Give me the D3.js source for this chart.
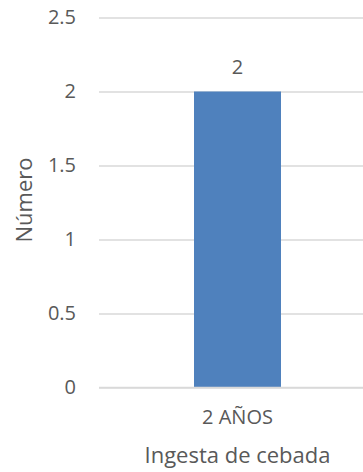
<!DOCTYPE html>
<html>
<head>
<meta charset="utf-8">
<script src="https://cdn.jsdelivr.net/npm/d3@7"></script>
<style>
  html, body { margin: 0; padding: 0; background: #fff; }
  svg { display: block; font-family: "Open Sans", sans-serif; }
</style>
</head>
<body>
<svg id="chart" width="363" height="472"></svg>
<script>
// Chart data
const categories = ["2 AÑOS"];
const values = [2];
const yTicks = [0, 0.5, 1, 1.5, 2, 2.5];
const yTickLabels = ["0", "0.5", "1", "1.5", "2", "2.5"];
const xTitle = "Ingesta de cebada";
const yTitle = "Número";

const svg = d3.select("#chart");
const textColor = "#595959";
const gridColor = "#d9d9d9";
const barColor = "#4f81bd";

const plot = { left: 99, right: 376, top: 17.5, bottom: 387.5 };

const y = d3.scaleLinear().domain([0, 2.5]).range([plot.bottom, plot.top]);
const x = d3.scaleBand().domain(categories).range([plot.left, plot.right]).padding(0.522);

// Horizontal gridlines with tick labels
const yAxis = d3.axisLeft(y)
  .tickValues(yTicks)
  .tickFormat((d, i) => yTickLabels[i])
  .tickSize(-(plot.right - plot.left))
  .tickPadding(23);

const gy = svg.append("g")
  .attr("transform", `translate(${plot.left},0)`)
  .call(yAxis);
gy.select(".domain").remove();
gy.selectAll(".tick line").attr("stroke", gridColor).attr("stroke-width", 1.5);
gy.selectAll(".tick text")
  .attr("fill", textColor)
  .attr("font-size", 20)
  .attr("font-family", "Open Sans, sans-serif");

// Bars
svg.append("g").selectAll("rect")
  .data(values)
  .join("rect")
  .attr("x", (d, i) => x(categories[i]))
  .attr("width", x.bandwidth())
  .attr("y", d => y(d))
  .attr("height", d => y(0) - y(d))
  .attr("fill", barColor);

// Value labels
svg.append("g").selectAll("text")
  .data(values)
  .join("text")
  .attr("x", (d, i) => x(categories[i]) + x.bandwidth() / 2)
  .attr("y", d => y(d) - 25)
  .attr("dy", "0.35em")
  .attr("text-anchor", "middle")
  .attr("font-size", 20)
  .attr("fill", textColor)
  .text(d => d);

// Category labels
const xAxis = d3.axisBottom(x).tickSize(0).tickPadding(22);
const gx = svg.append("g")
  .attr("transform", `translate(0,${plot.bottom})`)
  .call(xAxis);
gx.select(".domain").attr("stroke", gridColor).attr("stroke-width", 1.5)
  .attr("d", `M${plot.left},0H${plot.right}`);
gx.selectAll(".tick text")
  .attr("fill", textColor)
  .attr("font-size", 20)
  .attr("font-family", "Open Sans, sans-serif");

// Axis titles
svg.append("text")
  .attr("x", x(categories[0]) + x.bandwidth() / 2)
  .attr("y", 455)
  .attr("dy", "0.35em")
  .attr("text-anchor", "middle")
  .attr("font-size", 22)
  .attr("fill", textColor)
  .text(xTitle);

svg.append("text")
  .attr("transform", "translate(24,200) rotate(-90)")
  .attr("dy", "0.35em")
  .attr("text-anchor", "middle")
  .attr("font-size", 22)
  .attr("fill", textColor)
  .text(yTitle);
</script>
</body>
</html>
